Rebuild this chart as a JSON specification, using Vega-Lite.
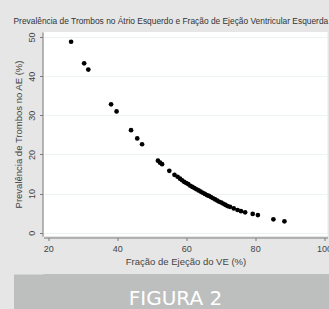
{
  "$schema": "https://vega.github.io/schema/vega-lite/v6.json",
  "background": "#e6e6e6",
  "padding": {"left": 13.5, "top": 16, "right": 0, "bottom": 0},
  "spacing": 8,
  "config": {
    "font": "Liberation Sans",
    "view": {"stroke": null},
    "concat": {"spacing": 8},
    "axis": {
      "labelFont": "Liberation Sans",
      "titleFont": "Liberation Sans",
      "labelFontSize": 9,
      "titleFontSize": 9.5,
      "labelColor": "#444444",
      "titleColor": "#444444",
      "titleFontWeight": "normal",
      "domainColor": "#7a7a7a",
      "tickColor": "#7a7a7a",
      "gridColor": "#edf2f4",
      "gridOpacity": 1,
      "tickSize": 3
    }
  },
  "vconcat": [
    {
      "width": 284,
      "height": 204,
      "view": {"fill": "#ffffff", "stroke": null},
      "title": {
        "text": "Prevalência de Trombos no Átrio Esquerdo e Fração de Ejeção Ventricular Esquerda",
        "anchor": "start",
        "frame": "bounds",
        "font": "Liberation Sans",
        "fontSize": 8.4,
        "fontWeight": "normal",
        "color": "#333333",
        "offset": 7
      },
      "data": {
        "values": [
          {"fe": 26.6, "prev": 48.8},
          {"fe": 30.4, "prev": 43.3},
          {"fe": 31.6, "prev": 41.7},
          {"fe": 38.2, "prev": 32.8},
          {"fe": 39.8, "prev": 31.0},
          {"fe": 44.0, "prev": 26.2},
          {"fe": 45.8, "prev": 24.1},
          {"fe": 47.2, "prev": 22.6},
          {"fe": 51.8, "prev": 18.4},
          {"fe": 52.4, "prev": 17.9},
          {"fe": 53.0, "prev": 17.5},
          {"fe": 55.1, "prev": 15.8},
          {"fe": 56.6, "prev": 14.8},
          {"fe": 57.5, "prev": 14.3},
          {"fe": 58.2, "prev": 13.8},
          {"fe": 58.8, "prev": 13.4},
          {"fe": 59.4, "prev": 13.0},
          {"fe": 60.0, "prev": 12.7},
          {"fe": 60.6, "prev": 12.4},
          {"fe": 61.2, "prev": 12.0},
          {"fe": 61.8, "prev": 11.7},
          {"fe": 62.4, "prev": 11.4},
          {"fe": 63.0, "prev": 11.1},
          {"fe": 63.6, "prev": 10.8},
          {"fe": 64.2, "prev": 10.5},
          {"fe": 64.8, "prev": 10.2},
          {"fe": 65.4, "prev": 9.9},
          {"fe": 66.0, "prev": 9.6},
          {"fe": 66.6, "prev": 9.4},
          {"fe": 67.2, "prev": 9.1},
          {"fe": 67.8, "prev": 8.8},
          {"fe": 68.4, "prev": 8.5},
          {"fe": 69.0, "prev": 8.2},
          {"fe": 69.6, "prev": 7.9},
          {"fe": 70.2, "prev": 7.7},
          {"fe": 70.8, "prev": 7.4},
          {"fe": 71.4, "prev": 7.1},
          {"fe": 72.0, "prev": 6.8},
          {"fe": 72.7, "prev": 6.6},
          {"fe": 73.8, "prev": 6.2},
          {"fe": 74.9, "prev": 5.8},
          {"fe": 75.9, "prev": 5.5},
          {"fe": 77.1, "prev": 5.2},
          {"fe": 79.3, "prev": 4.8},
          {"fe": 80.8, "prev": 4.5},
          {"fe": 85.3, "prev": 3.4},
          {"fe": 88.5, "prev": 2.9}
        ]
      },
      "mark": {"type": "point", "filled": true, "color": "#000000", "opacity": 1, "size": 22},
      "encoding": {
        "x": {
          "field": "fe",
          "type": "quantitative",
          "title": "Fração de Ejeção do VE (%)",
          "scale": {"domain": [18.6, 101.0], "nice": false, "zero": false},
          "axis": {
            "values": [20, 40, 60, 80, 100],
            "grid": false,
            "offset": 1.5,
            "labelPadding": 4,
            "titlePadding": 2.5,
            "labelFlush": false
          }
        },
        "y": {
          "field": "prev",
          "type": "quantitative",
          "title": "Prevalência de Trombos no AE (%)",
          "scale": {"domain": [-0.85, 51.3], "nice": false, "zero": false},
          "axis": {
            "values": [0, 10, 20, 30, 40, 50],
            "grid": true,
            "offset": 1,
            "labelAngle": -90,
            "labelAlign": "center",
            "labelBaseline": "bottom",
            "labelPadding": 3,
            "titlePadding": 4,
            "labelFlush": false
          }
        }
      }
    },
    {
      "width": 286,
      "height": 36,
      "view": {"fill": "#bdbfbf", "stroke": null},
      "data": {"values": [{"label": "FIGURA 2"}]},
      "mark": {"type": "text", "font": "DejaVu Sans", "fontSize": 20, "color": "#ffffff", "dy": 7, "dx": -11, "baseline": "middle", "align": "center"},
      "encoding": {
        "text": {"field": "label", "type": "nominal"},
        "y": {
          "datum": 0.5,
          "type": "quantitative",
          "scale": {"domain": [0, 1]},
          "axis": {"domain": true, "domainColor": "#bdbfbf", "domainWidth": 30, "domainCap": "butt", "offset": 15, "ticks": false, "labels": false, "grid": false, "title": null}
        }
      }
    }
  ]
}
